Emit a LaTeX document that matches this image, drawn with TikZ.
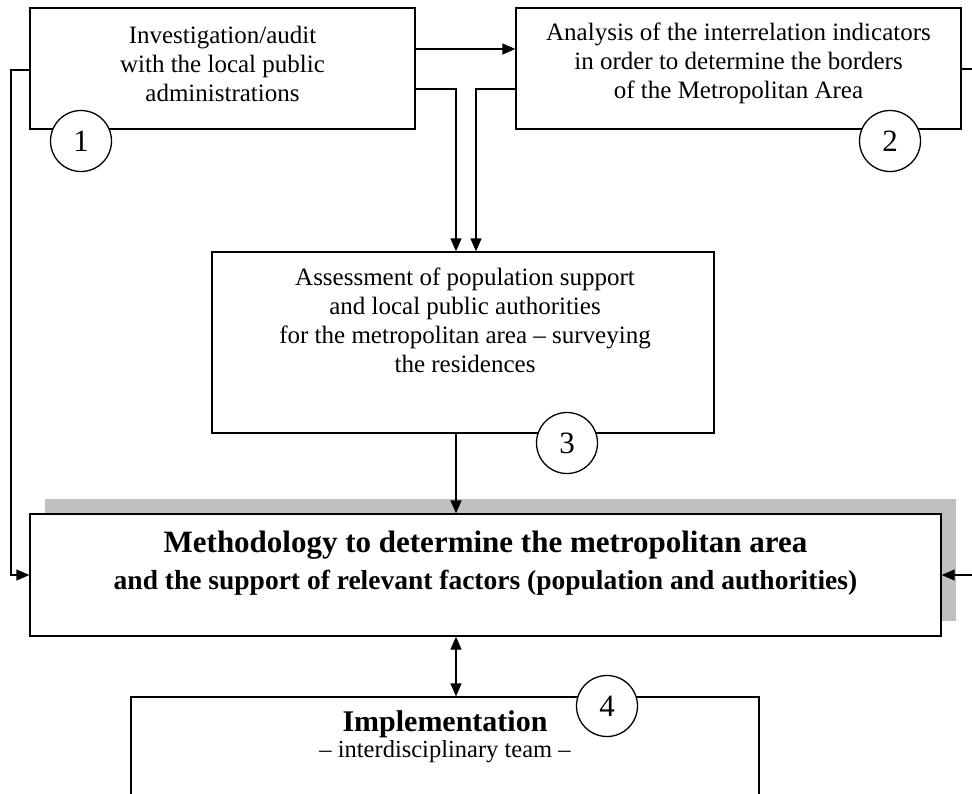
\documentclass[tikz,border=0pt]{standalone}
\usepackage{fontspec}
\setmainfont{Liberation Serif}
\usetikzlibrary{arrows.meta}
\definecolor{shadowgray}{RGB}{192,192,192}
\tikzset{
  box/.style={draw, line width=1.3pt, fill=white, minimum width=#1, inner sep=0pt},
  txt/.style={align=center, inner sep=0pt, font=\fontsize{25}{29}\selectfont},
  line/.style={inner sep=0pt, anchor=base},
  num/.style={draw, circle, line width=1.3pt, fill=white, minimum size=61pt, inner sep=0pt, font=\fontsize{31}{31}\selectfont},
  arr/.style={line width=1.3pt, -{Triangle[length=13pt, width=11pt]}},
  darr/.style={line width=1.3pt, {Triangle[length=13pt, width=11pt]}-{Triangle[length=13pt, width=11pt]}},
}
\begin{document}
\begin{tikzpicture}[x=1pt, y=-1pt]
\useasboundingbox (0,0) rectangle (972,793);
\clip (0,0) rectangle (972,793);
% boxes
\node[box=385pt, minimum height=121pt] (b1) at (222.5,68.5) {};
\node[txt] (t1) at (222.5,63.5) {Investigation/audit\\with the local public\\administrations};
\node[box=445pt, minimum height=121pt] (b2) at (738.5,68.5) {};
\node[txt] (t2) at (738.5,63) {Analysis of the interrelation indicators\\in order to determine the borders\\of the Metropolitan Area};
\node[box=502pt, minimum height=181pt] (b3) at (463,342.5) {};
\node[txt] (t3) at (465,320.5) {Assessment of population support\\and local public authorities\\for the metropolitan area -- surveying\\the residences};
% shadow + main
\fill[shadowgray] (45,499) rectangle (956,621);
\node[box=911pt, minimum height=122pt] (main) at (485.5,575) {};
\node[line, font=\fontsize{31}{31}\selectfont\bfseries] (mt1) at (485.5,552) {Methodology to determine the metropolitan area};
\node[line, font=\fontsize{27.5}{28}\selectfont\bfseries] (mt2) at (485.5,589) {and the support of relevant factors (population and authorities)};
\node[box=628pt, minimum height=140pt] (b4) at (445,767) {};
\node[line, font=\fontsize{30}{30}\selectfont\bfseries] (it1) at (445,731.5) {Implementation};
\node[line, font=\fontsize{24.5}{28}\selectfont] (it2) at (445,757) {-- interdisciplinary team --};
% connectors
\draw[arr] (b1.east |- 0,49) -- (b2.west |- 0,49);
\draw[arr] (b1.east |- 0,89) -| (b3.north -| 456,0);
\draw[arr] (b2.west |- 0,89) -| (b3.north -| 476,0);
\coordinate (lt) at (11,575);
\draw[arr] (b1.west |- 0,70) -| (lt) -- (main.west);
\coordinate (rtop) at (985,69);
\coordinate (rbot) at (985,575);
\draw[arr] (b2.east |- rtop) -- (rtop) -- (rbot) -- (main.east);
\draw[arr] (b3.south -| 456,0) -- (main.north -| 456,0);
\draw[darr] (main.south -| 456,0) -- (b4.north -| 456,0);
% numbered circles
\node[num] (c1) at (81,141) {1};
\node[num] (c2) at (890,141) {2};
\node[num] (c3) at (567,443) {3};
\node[num] (c4) at (607,706) {4};
\end{tikzpicture}
\end{document}
